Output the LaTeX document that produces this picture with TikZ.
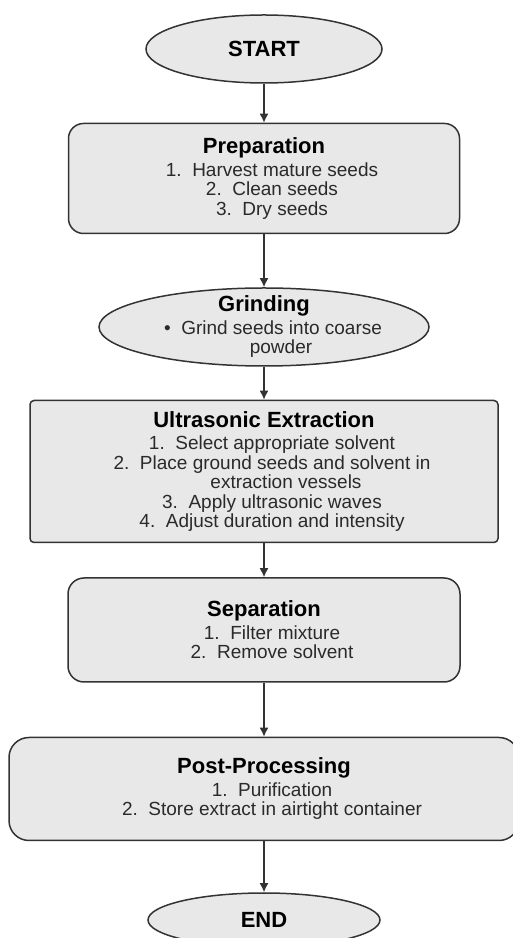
\documentclass[tikz,border=0pt]{standalone}
\usepackage{fontspec}
\setmainfont{Liberation Sans}
\usetikzlibrary{arrows.meta}
\usetikzlibrary{positioning}
\usetikzlibrary{shapes.geometric}
\definecolor{boxfill}{HTML}{E8E8E8}
\definecolor{boxline}{HTML}{333333}
\definecolor{bodytext}{HTML}{2A2A2A}
\newcommand{\stagetitle}[1]{{\color{black}\fontsize{22}{24}\selectfont\bfseries #1}}
\newcommand{\listline}[2]{\hspace*{16pt}#1\ \ #2}
\tikzset{
  node distance = 39pt,
  > = {Latex[length=9pt, width=9pt]},
  base/.style = {draw = boxline,
                 line width = 1.5pt,
                 fill = boxfill,
                 text = bodytext,
                 align = center,
                 font = \fontsize{19}{19.5}\selectfont,
                 inner sep = 0pt},
  terminal/.style = {base,
                     ellipse,
                     text = black,
                     font = \fontsize{22}{24}\selectfont\bfseries},
  stage/.style = {base,
                  rectangle},
  flow/.style = {draw = boxline,
                 line width = 1.6pt}
}

\begin{document}
\begin{tikzpicture}[x=1pt, y=1pt]
\useasboundingbox (0,0) rectangle (513,938);

\node[terminal, minimum width = 236pt, minimum height = 68pt](start) at (264,889){START};

\node[stage, rounded corners = 15pt, minimum width = 391pt, minimum height = 110pt](prep)[below = 39pt of start]{\stagetitle{Preparation}\\[3pt]
  \listline{1.}{Harvest mature seeds}\\
  \listline{2.}{Clean seeds}\\
  \listline{3.}{Dry seeds}}
  edge[flow, <-](start);

\node[base, ellipse, inner xsep = -3pt, inner ysep = -4pt, minimum width = 330pt, minimum height = 78pt](grind)[below = 53pt of prep]{\stagetitle{Grinding}\\[3pt]
  \hspace*{18pt}\textbullet\ \ Grind seeds into coarse\\
  \hspace*{34pt}powder}
  edge[flow, <-](prep);

\node[stage, rounded corners = 4pt, minimum width = 468pt, minimum height = 142pt](ultra)[below = 33pt of grind]{\stagetitle{Ultrasonic Extraction}\\[3pt]
  \listline{1.}{Select appropriate solvent}\\
  \listline{2.}{Place ground seeds and solvent in}\\
  \hspace*{44pt}extraction vessels\\
  \listline{3.}{Apply ultrasonic waves}\\
  \listline{4.}{Adjust duration and intensity}}
  edge[flow, <-](grind);

\node[stage, rounded corners = 16pt, minimum width = 392pt, minimum height = 104pt](sep)[below = 34pt of ultra]{\stagetitle{Separation}\\[3pt]
  \listline{1.}{Filter mixture}\\
  \listline{2.}{Remove solvent}}
  edge[flow, <-](ultra);

\node[stage, rounded corners = 20pt, minimum width = 510pt, minimum height = 103pt](post)[below = 54pt of sep]{\stagetitle{Post-Processing}\\[3pt]
  \listline{1.}{Purification}\\
  \listline{2.}{Store extract in airtight container}}
  edge[flow, <-](sep);

\node[terminal, minimum width = 232pt, minimum height = 54pt](end)[below = 51pt of post]{END}
  edge[flow, <-](post);

\end{tikzpicture}
\end{document}
